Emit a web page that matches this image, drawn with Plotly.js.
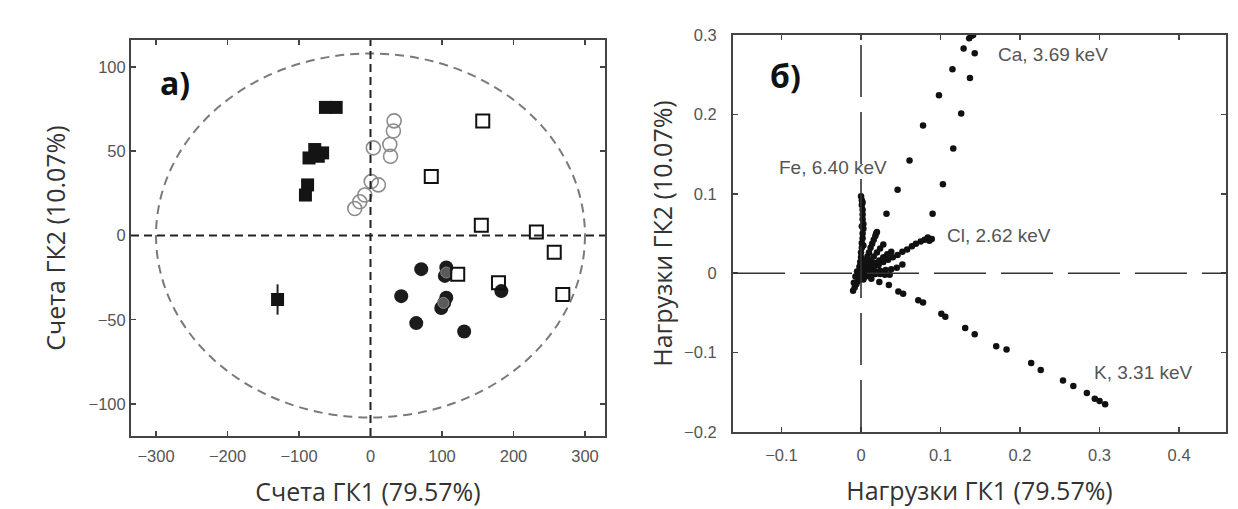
<!DOCTYPE html>
<html>
<head>
<meta charset="utf-8">
<script src="https://cdn.plot.ly/plotly-3.0.1.min.js"></script>
<style>html,body{margin:0;padding:0;background:#fff;}#chart{width:1238px;height:509px;}</style>
</head>
<body>
<div id="chart"></div>
<script>
// ---- Panel a) scores ----
var filledSqX = [-63, -48, -78, -67, -86, -73, -88, -91, -130];
var filledSqY = [76, 76, 51, 49, 46, 47, 30, 24, -38];
var filledSqErr = [0, 0, 0, 0, 0, 0, 0, 0, 9];
var openCircX = [33, 32, 27, 28, 4, 1, 11, -8, -15, -22];
var openCircY = [68, 62, 54, 47, 52, 32, 30, 24, 20, 16];
var filledCircX = [71, 106, 104, 43, 106, 99, 103, 64, 131, 183];
var filledCircY = [-20, -19, -24, -36, -37, -43, -40, -52, -57, -33];
var grayCircX = [106, 102];
var grayCircY = [-22, -40];
var openSqX = [157, 85, 155, 232, 257, 269, 122, 179];
var openSqY = [68, 35, 6, 2, -10, -35, -23, -28];
var ellipseRadii = [300, 108];
var scoreXTicks = [-300, -200, -100, 0, 100, 200, 300];
var scoreYTicks = [-100, -50, 0, 50, 100];

// ---- Panel б) loadings ----
var caX = [0.032, 0.046, 0.061, 0.078, 0.098, 0.115, 0.129, 0.136, 0.139, 0.141];
var caY = [0.075, 0.105, 0.142, 0.186, 0.224, 0.257, 0.283, 0.296, 0.299, 0.300];
var ca2X = [0.090, 0.103, 0.116, 0.126, 0.137, 0.143];
var ca2Y = [0.075, 0.112, 0.157, 0.201, 0.246, 0.277];
var feX = [0.000, 0.001, 0.001, 0.002, 0.002, 0.002, 0.003, 0.003, 0.002, 0.002, 0.001, 0.001, 0.000, 0.000, -0.001, -0.002, -0.003, 0.002, 0.001, 0.003];
var feY = [0.097, 0.092, 0.086, 0.080, 0.074, 0.068, 0.062, 0.056, 0.050, 0.044, 0.038, 0.032, 0.026, 0.020, 0.014, 0.008, 0.002, 0.089, 0.059, 0.035];
var r2X = [0.020, 0.019, 0.018, 0.016, 0.014, 0.012, 0.010, 0.008, 0.006, 0.004, 0.002];
var r2Y = [0.052, 0.050, 0.047, 0.042, 0.037, 0.032, 0.026, 0.021, 0.016, 0.010, 0.005];
var r4X = [0.028, 0.024, 0.020, 0.016, 0.012, 0.008, 0.004];
var r4Y = [0.036, 0.031, 0.026, 0.021, 0.016, 0.011, 0.006];
var r3X = [0.038, 0.033, 0.028, 0.023, 0.018, 0.013, 0.008];
var r3Y = [0.027, 0.024, 0.020, 0.016, 0.013, 0.009, 0.006];
var clX = [0.089, 0.086, 0.084, 0.080, 0.075, 0.069, 0.064, 0.058, 0.052, 0.046, 0.040, 0.034, 0.028, 0.022, 0.016, 0.010];
var clY = [0.043, 0.041, 0.045, 0.042, 0.040, 0.037, 0.034, 0.030, 0.027, 0.023, 0.020, 0.017, 0.014, 0.010, 0.007, 0.004];
var r5X = [0.052, 0.045, 0.038, 0.031, 0.024, 0.017, 0.010];
var r5Y = [0.011, 0.007, 0.005, 0.004, 0.003, 0.002, 0.001];
var r6X = [0.036, 0.030, 0.024, 0.018, 0.012, 0.006];
var r6Y = [-0.002, -0.002, -0.001, -0.001, 0.000, 0.000];
var negX = [-0.010, -0.008, -0.006, -0.004, -0.002, 0.000, 0.003, 0.006, -0.009, -0.007, -0.005, 0.001];
var negY = [-0.022, -0.018, -0.014, -0.010, -0.006, -0.003, -0.008, -0.004, -0.012, -0.004, 0.002, 0.004];
var kX = [0.006, 0.013, 0.023, 0.035, 0.047, 0.053, 0.072, 0.078, 0.101, 0.106, 0.131, 0.143, 0.170, 0.183, 0.214, 0.226, 0.254, 0.267, 0.284, 0.294, 0.300, 0.307];
var kY = [-0.003, -0.007, -0.011, -0.015, -0.023, -0.026, -0.034, -0.037, -0.051, -0.055, -0.069, -0.077, -0.092, -0.096, -0.113, -0.122, -0.135, -0.142, -0.151, -0.158, -0.161, -0.165];
var peakLabels = ["Ca, 3.69 keV", "Fe, 6.40 keV", "Cl, 2.62 keV", "K, 3.31 keV"];
var peakLabelX = [0.170, -0.106, 0.106, 0.291];
var peakLabelY = [0.276, 0.133, 0.047, -0.125];
var loadXTicks = [-0.1, 0, 0.1, 0.2, 0.3, 0.4];
var loadYTicks = [-0.2, -0.1, 0, 0.1, 0.2, 0.3];

var traces = [];
traces.push({x: filledSqX, y: filledSqY, type: 'scatter', mode: 'markers', xaxis: 'x', yaxis: 'y',
  marker: {symbol: 'square', size: 13, color: '#141414', line: {width: 0}},
  error_y: {type: 'data', array: filledSqErr, visible: true, color: '#222', thickness: 2, width: 0}});
traces.push({x: openCircX, y: openCircY, type: 'scatter', mode: 'markers', xaxis: 'x', yaxis: 'y',
  marker: {symbol: 'circle-open', size: 14, color: '#8c8c8c', line: {width: 1.6, color: '#8c8c8c'}}});
traces.push({x: filledCircX, y: filledCircY, type: 'scatter', mode: 'markers', xaxis: 'x', yaxis: 'y',
  marker: {symbol: 'circle', size: 14, color: '#1c1c1c', line: {width: 0}}});
traces.push({x: grayCircX, y: grayCircY, type: 'scatter', mode: 'markers', xaxis: 'x', yaxis: 'y',
  marker: {symbol: 'circle', size: 11, color: '#5a5a5a', line: {width: 1, color: '#888'}}});
traces.push({x: openSqX, y: openSqY, type: 'scatter', mode: 'markers', xaxis: 'x', yaxis: 'y',
  marker: {symbol: 'square-open', size: 13, color: '#111', line: {width: 2, color: '#111'}}});

var loadSets = [[caX, caY], [ca2X, ca2Y], [feX, feY], [r2X, r2Y], [r4X, r4Y], [r3X, r3Y], [clX, clY], [r5X, r5Y], [r6X, r6Y], [negX, negY], [kX, kY]];
loadSets.forEach(function (s) {
  traces.push({x: s[0], y: s[1], type: 'scatter', mode: 'markers', xaxis: 'x2', yaxis: 'y2',
    marker: {symbol: 'circle', size: 6.5, color: '#111', line: {width: 0}}});
});

var tickFont = {family: 'Liberation Sans, Arial, sans-serif', size: 16.5, color: '#555'};
var titleFont = {family: 'Open Sans, Noto Sans, sans-serif', size: 25, color: '#333'};
function ax(extra) {
  var base = {showline: true, mirror: 'ticks', linecolor: '#444', linewidth: 2, ticks: 'inside', ticklen: 5,
    tickwidth: 1.5, tickcolor: '#444', showgrid: false, zeroline: false, tickfont: tickFont, fixedrange: true};
  for (var k in extra) base[k] = extra[k];
  return base;
}

var layout = {
  width: 1238, height: 509, showlegend: false,
  paper_bgcolor: '#fff', plot_bgcolor: '#fff',
  margin: {l: 0, r: 0, t: 0, b: 0},
  xaxis: ax({domain: [131 / 1238, 605 / 1238], range: [-335, 328], tickvals: scoreXTicks, anchor: 'y',
    ticklabelstandoff: 4,
    title: {text: 'Счета ГК1 (79.57%)', font: titleFont, standoff: 20}}),
  yaxis: ax({domain: [73 / 509, 469 / 509], range: [-119, 116], tickvals: scoreYTicks, anchor: 'x',
    title: {text: 'Счета ГК2 (10.07%)', font: titleFont, standoff: 16}}),
  xaxis2: ax({domain: [733 / 1238, 1226 / 1238], range: [-0.161, 0.459], tickvals: loadXTicks, anchor: 'y2',
    ticklabelstandoff: 7,
    title: {text: 'Нагрузки ГК1 (79.57%)', font: titleFont, standoff: 20}}),
  yaxis2: ax({domain: [77 / 509, 474 / 509], range: [-0.2, 0.3], tickvals: loadYTicks, anchor: 'x2',
    ticklabelstandoff: 11,
    title: {text: 'Нагрузки ГК2 (10.07%)', font: titleFont, standoff: 4}}),
  shapes: [
    {type: 'circle', xref: 'x', yref: 'y', x0: -ellipseRadii[0], x1: ellipseRadii[0], y0: -ellipseRadii[1], y1: ellipseRadii[1],
      line: {color: '#7a7a7a', width: 2, dash: '9px,6px'}},
    {type: 'line', xref: 'x', yref: 'y domain', x0: 0, x1: 0, y0: 0, y1: 1, line: {color: '#222', width: 2, dash: '8px,5px'}},
    {type: 'line', xref: 'x domain', yref: 'y', x0: 0, x1: 1, y0: 0, y1: 0, line: {color: '#222', width: 2, dash: '8px,5px'}},
    {type: 'line', xref: 'x2', yref: 'y2 domain', x0: 0, x1: 0, y0: 0, y1: 1, line: {color: '#333', width: 1.6, dash: '52px,15px'}},
    {type: 'line', xref: 'x2 domain', yref: 'y2', x0: 0, x1: 1, y0: 0, y1: 0, line: {color: '#333', width: 1.6, dash: '52px,15px'}}
  ],
  annotations: [
    {text: '<b>а)</b>', xref: 'x domain', yref: 'y domain', x: 0.058, y: 0.952, xanchor: 'left', yanchor: 'top', showarrow: false,
      font: {family: 'Open Sans, Noto Sans, sans-serif', size: 32, color: '#111'}},
    {text: '<b>б)</b>', xref: 'x2 domain', yref: 'y2 domain', x: 0.07, y: 0.957, xanchor: 'left', yanchor: 'top', showarrow: false,
      font: {family: 'Open Sans, Noto Sans, sans-serif', size: 32, color: '#111'}}
  ]
};
peakLabels.forEach(function (t, i) {
  layout.annotations.push({text: t, xref: 'x2', yref: 'y2', x: peakLabelX[i], y: peakLabelY[i], xanchor: 'left', yanchor: 'middle',
    showarrow: false, font: {family: 'Liberation Sans, Arial, sans-serif', size: 19, color: '#555'}});
});

Plotly.newPlot('chart', traces, layout, {displayModeBar: false, staticPlot: true});
</script>
</body>
</html>
